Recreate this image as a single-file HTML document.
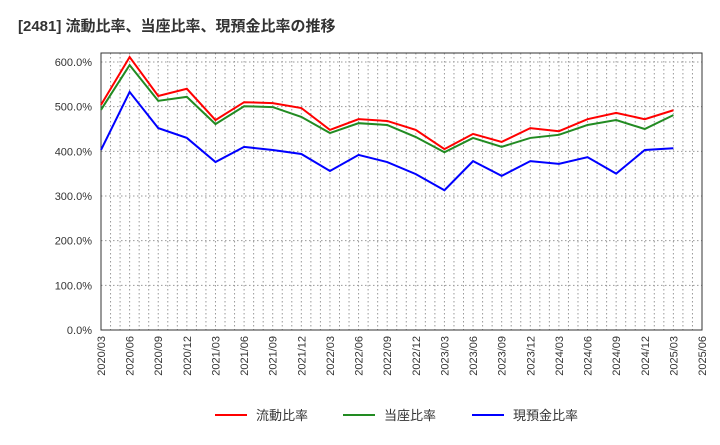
<!DOCTYPE html>
<html><head><meta charset="utf-8"><style>
body{margin:0;background:#fff;font-family:"Liberation Sans","Noto Sans CJK JP",sans-serif;}
</style></head><body>
<svg id="c" width="720" height="440" xmlns="http://www.w3.org/2000/svg">
<text x="18" y="31" font-size="15" font-weight="bold" fill="#333">[2481]  流動比率、当座比率、現預金比率の推移</text>
<g id="grid"></g><g id="axes"></g><g id="lines"></g><g id="legend"></g>
</svg>
<script>
const categories=["2020/03","2020/06","2020/09","2020/12","2021/03","2021/06","2021/09","2021/12","2022/03","2022/06","2022/09","2022/12","2023/03","2023/06","2023/09","2023/12","2024/03","2024/06","2024/09","2024/12","2025/03"];
const tickLabels=["2020/03","2020/06","2020/09","2020/12","2021/03","2021/06","2021/09","2021/12","2022/03","2022/06","2022/09","2022/12","2023/03","2023/06","2023/09","2023/12","2024/03","2024/06","2024/09","2024/12","2025/03","2025/06"];
const currentRatio=[504,611,524,540,470,510,508,497,448,472,468,448,405,439,421,452,445,472,486,472,492];
const quickRatio=[493,593,513,522,461,501,499,477,441,463,459,432,398,430,410,430,437,459,470,450,481];
const cashRatio=[403,533,452,430,376,410,403,394,356,392,376,349,313,378,345,378,372,387,350,403,407];
const yTicks=[0,100,200,300,400,500,600];
const NS="http://www.w3.org/2000/svg";
const L=101,R=702,T=53,B=330;
const xs=i=>L+i*(R-L)/(tickLabels.length-1);
const ys=v=>B-v*(B-62)/600;
function mk(tag,attrs,parent){const e=document.createElementNS(NS,tag);for(const k in attrs)e.setAttribute(k,attrs[k]);parent.appendChild(e);return e;}
const grid=document.getElementById('grid'),axes=document.getElementById('axes'),lines=document.getElementById('lines'),legend=document.getElementById('legend');
for(let m=1;m<(tickLabels.length-1)*3;m++){const x=L+m*(R-L)/((tickLabels.length-1)*3);
const g=mk('line',{x1:x,x2:x,y1:T,y2:B,stroke:'#999','stroke-dasharray':'1.5,2.5','stroke-width':1},grid);

}
yTicks.forEach(v=>{const y=ys(v);
if(v>0){const g=mk('line',{x1:L,x2:R,y1:y,y2:y,stroke:'#999','stroke-dasharray':'1.5,2.5'},grid);

}
const t=mk('text',{x:92,y:y+4,'text-anchor':'end','font-size':11,fill:'#333'},axes);t.textContent=v.toFixed(1)+'%';

});
tickLabels.forEach((s,i)=>{const x=xs(i);
const t=mk('text',{x:0,y:0,'text-anchor':'end','font-size':11,fill:'#333',transform:`translate(${x+4},336) rotate(-90)`},axes);t.textContent=s;

});
const fr=mk('rect',{x:L,y:T,width:R-L,height:B-T,fill:'none',stroke:'#333','stroke-width':1},axes);


const series=[[currentRatio,'#f00','current-ratio-line','流動比率'],[quickRatio,'#228b22','quick-ratio-line','当座比率'],[cashRatio,'#00f','cash-ratio-line','現預金比率']];
series.forEach(([d,c,n])=>{const p=mk('polyline',{points:d.map((v,i)=>xs(i)+','+ys(v)).join(' '),fill:'none',stroke:c,'stroke-width':2},lines);

});
const lx=[215,343,472];
series.forEach(([d,c,n,lab],k)=>{const g=mk('g',{},legend);


mk('line',{x1:lx[k],x2:lx[k]+32,y1:415,y2:415,stroke:c,'stroke-width':2},g);
const t=mk('text',{x:lx[k]+41,y:420,'font-size':13,fill:'#333'},g);t.textContent=lab;});
</script>
</body></html>
